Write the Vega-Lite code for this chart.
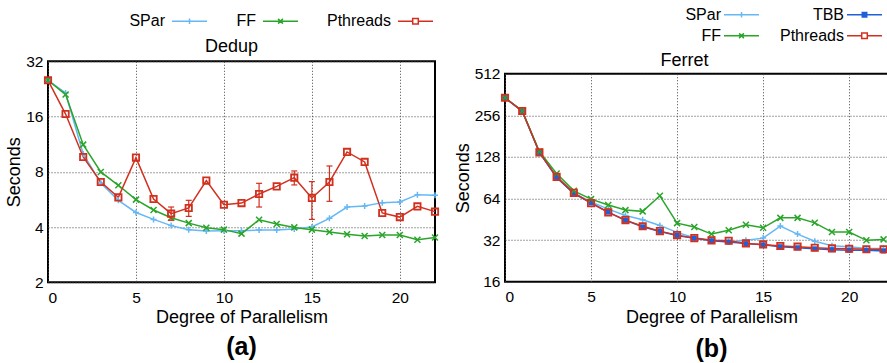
{
  "$schema": "https://vega.github.io/schema/vega-lite/v6.json",
  "padding": {"left": 4, "top": 2, "right": 0, "bottom": 0},
  "spacing": 10,
  "center": true,
  "config": {
    "font": "Liberation Sans",
    "view": {"stroke": "#000", "strokeWidth": 2},
    "axis": {
      "labelFont": "Liberation Sans", "labelFontSize": 15.5, "labelColor": "#000",
      "titleFont": "Liberation Sans", "titleFontSize": 18, "titleFontWeight": "normal", "titleColor": "#000",
      "domain": false, "ticks": false,
      "gridColor": "#444", "gridDash": [1, 2], "gridOpacity": 1, "gridWidth": 1
    },
    "legend": {
      "labelFont": "Liberation Sans", "labelFontSize": 16, "labelColor": "#000",
      "labelAlign": "right",
      "symbolSize": 256, "symbolStrokeWidth": 1.5, "padding": 0
    },
    "title": {"font": "Liberation Sans", "fontSize": 25, "fontWeight": "bold", "color": "#000"}
  },
  "datasets": {
    "dedup": [
      {"x": 0, "series": "SPar", "y": 25.2}, {"x": 1, "series": "SPar", "y": 21.5}, {"x": 2, "series": "SPar", "y": 10.0},
      {"x": 3, "series": "SPar", "y": 6.95}, {"x": 4, "series": "SPar", "y": 5.59}, {"x": 5, "series": "SPar", "y": 4.80},
      {"x": 6, "series": "SPar", "y": 4.40}, {"x": 7, "series": "SPar", "y": 4.07}, {"x": 8, "series": "SPar", "y": 3.87},
      {"x": 9, "series": "SPar", "y": 3.80}, {"x": 10, "series": "SPar", "y": 3.82}, {"x": 11, "series": "SPar", "y": 3.82},
      {"x": 12, "series": "SPar", "y": 3.85}, {"x": 13, "series": "SPar", "y": 3.85}, {"x": 14, "series": "SPar", "y": 3.90},
      {"x": 15, "series": "SPar", "y": 4.0}, {"x": 16, "series": "SPar", "y": 4.46}, {"x": 17, "series": "SPar", "y": 5.14},
      {"x": 18, "series": "SPar", "y": 5.21}, {"x": 19, "series": "SPar", "y": 5.43}, {"x": 20, "series": "SPar", "y": 5.47},
      {"x": 21, "series": "SPar", "y": 6.0}, {"x": 22, "series": "SPar", "y": 5.95},
      {"x": 0, "series": "FF", "y": 25.2}, {"x": 1, "series": "FF", "y": 21.07}, {"x": 2, "series": "FF", "y": 11.24},
      {"x": 3, "series": "FF", "y": 7.98}, {"x": 4, "series": "FF", "y": 6.75}, {"x": 5, "series": "FF", "y": 5.64},
      {"x": 6, "series": "FF", "y": 4.95}, {"x": 7, "series": "FF", "y": 4.49}, {"x": 8, "series": "FF", "y": 4.20},
      {"x": 9, "series": "FF", "y": 3.96}, {"x": 10, "series": "FF", "y": 3.87}, {"x": 11, "series": "FF", "y": 3.68},
      {"x": 12, "series": "FF", "y": 4.38}, {"x": 13, "series": "FF", "y": 4.15}, {"x": 14, "series": "FF", "y": 3.98},
      {"x": 15, "series": "FF", "y": 3.87}, {"x": 16, "series": "FF", "y": 3.76}, {"x": 17, "series": "FF", "y": 3.65},
      {"x": 18, "series": "FF", "y": 3.57}, {"x": 19, "series": "FF", "y": 3.62}, {"x": 20, "series": "FF", "y": 3.62},
      {"x": 21, "series": "FF", "y": 3.41}, {"x": 22, "series": "FF", "y": 3.51},
      {"x": 0, "series": "Pthreads", "y": 25.2}, {"x": 1, "series": "Pthreads", "y": 16.5}, {"x": 2, "series": "Pthreads", "y": 9.63},
      {"x": 3, "series": "Pthreads", "y": 7.04}, {"x": 4, "series": "Pthreads", "y": 5.8}, {"x": 5, "series": "Pthreads", "y": 9.55},
      {"x": 6, "series": "Pthreads", "y": 5.68}, {"x": 7, "series": "Pthreads", "y": 4.73}, {"x": 8, "series": "Pthreads", "y": 5.08},
      {"x": 9, "series": "Pthreads", "y": 7.16}, {"x": 10, "series": "Pthreads", "y": 5.29}, {"x": 11, "series": "Pthreads", "y": 5.40},
      {"x": 12, "series": "Pthreads", "y": 6.05}, {"x": 13, "series": "Pthreads", "y": 6.66}, {"x": 14, "series": "Pthreads", "y": 7.43},
      {"x": 15, "series": "Pthreads", "y": 5.76}, {"x": 16, "series": "Pthreads", "y": 7.04}, {"x": 17, "series": "Pthreads", "y": 10.26},
      {"x": 18, "series": "Pthreads", "y": 9.05}, {"x": 19, "series": "Pthreads", "y": 4.77}, {"x": 20, "series": "Pthreads", "y": 4.53},
      {"x": 21, "series": "Pthreads", "y": 5.18}, {"x": 22, "series": "Pthreads", "y": 4.85}
    ],
    "dedup_err": [
      {"x": 7, "lo": 4.35, "hi": 5.14}, {"x": 8, "lo": 4.57, "hi": 5.59}, {"x": 12, "lo": 5.14, "hi": 6.92},
      {"x": 14, "lo": 6.78, "hi": 8.08}, {"x": 15, "lo": 4.40, "hi": 7.07}, {"x": 16, "lo": 5.52, "hi": 8.60}
    ],
    "ferret": [
      {"x": 0, "series": "SPar", "y": 343}, {"x": 1, "series": "SPar", "y": 275}, {"x": 2, "series": "SPar", "y": 138},
      {"x": 3, "series": "SPar", "y": 91}, {"x": 4, "series": "SPar", "y": 70}, {"x": 5, "series": "SPar", "y": 60.6},
      {"x": 6, "series": "SPar", "y": 53.7}, {"x": 7, "series": "SPar", "y": 48.3}, {"x": 8, "series": "SPar", "y": 44.9},
      {"x": 9, "series": "SPar", "y": 40.9}, {"x": 10, "series": "SPar", "y": 36.4}, {"x": 11, "series": "SPar", "y": 33.3},
      {"x": 12, "series": "SPar", "y": 32.0}, {"x": 13, "series": "SPar", "y": 31.2}, {"x": 14, "series": "SPar", "y": 31.9},
      {"x": 15, "series": "SPar", "y": 33.1}, {"x": 16, "series": "SPar", "y": 40.5}, {"x": 17, "series": "SPar", "y": 35.4},
      {"x": 18, "series": "SPar", "y": 31.4}, {"x": 19, "series": "SPar", "y": 29.2}, {"x": 20, "series": "SPar", "y": 28.7},
      {"x": 21, "series": "SPar", "y": 27.9}, {"x": 22, "series": "SPar", "y": 27.8},
      {"x": 0, "series": "TBB", "y": 343}, {"x": 1, "series": "TBB", "y": 275}, {"x": 2, "series": "TBB", "y": 138},
      {"x": 3, "series": "TBB", "y": 91}, {"x": 4, "series": "TBB", "y": 69.5}, {"x": 5, "series": "TBB", "y": 59.5},
      {"x": 6, "series": "TBB", "y": 51}, {"x": 7, "series": "TBB", "y": 44.5}, {"x": 8, "series": "TBB", "y": 40},
      {"x": 9, "series": "TBB", "y": 37}, {"x": 10, "series": "TBB", "y": 34.6}, {"x": 11, "series": "TBB", "y": 33},
      {"x": 12, "series": "TBB", "y": 31.7}, {"x": 13, "series": "TBB", "y": 31.0}, {"x": 14, "series": "TBB", "y": 30.2},
      {"x": 15, "series": "TBB", "y": 29.6}, {"x": 16, "series": "TBB", "y": 28.7}, {"x": 17, "series": "TBB", "y": 28.2},
      {"x": 18, "series": "TBB", "y": 27.7}, {"x": 19, "series": "TBB", "y": 27.3}, {"x": 20, "series": "TBB", "y": 27.0},
      {"x": 21, "series": "TBB", "y": 27.0}, {"x": 22, "series": "TBB", "y": 26.7},
      {"x": 0, "series": "FF", "y": 343}, {"x": 1, "series": "FF", "y": 275}, {"x": 2, "series": "FF", "y": 140},
      {"x": 3, "series": "FF", "y": 97}, {"x": 4, "series": "FF", "y": 72.8}, {"x": 5, "series": "FF", "y": 63.4},
      {"x": 6, "series": "FF", "y": 57.4}, {"x": 7, "series": "FF", "y": 52.8}, {"x": 8, "series": "FF", "y": 51.7},
      {"x": 9, "series": "FF", "y": 67.0}, {"x": 10, "series": "FF", "y": 42.5}, {"x": 11, "series": "FF", "y": 39.8},
      {"x": 12, "series": "FF", "y": 35.4}, {"x": 13, "series": "FF", "y": 37.7}, {"x": 14, "series": "FF", "y": 41.3},
      {"x": 15, "series": "FF", "y": 39.3}, {"x": 16, "series": "FF", "y": 46.4}, {"x": 17, "series": "FF", "y": 46.4},
      {"x": 18, "series": "FF", "y": 42.7}, {"x": 19, "series": "FF", "y": 36.6}, {"x": 20, "series": "FF", "y": 36.6},
      {"x": 21, "series": "FF", "y": 31.9}, {"x": 22, "series": "FF", "y": 32.4},
      {"x": 0, "series": "Pthreads", "y": 343}, {"x": 1, "series": "Pthreads", "y": 275}, {"x": 2, "series": "Pthreads", "y": 138},
      {"x": 3, "series": "Pthreads", "y": 91.8}, {"x": 4, "series": "Pthreads", "y": 70.4}, {"x": 5, "series": "Pthreads", "y": 59.3},
      {"x": 6, "series": "Pthreads", "y": 50.8}, {"x": 7, "series": "Pthreads", "y": 44.7}, {"x": 8, "series": "Pthreads", "y": 40.3},
      {"x": 9, "series": "Pthreads", "y": 37.2}, {"x": 10, "series": "Pthreads", "y": 34.8}, {"x": 11, "series": "Pthreads", "y": 33.1},
      {"x": 12, "series": "Pthreads", "y": 31.9}, {"x": 13, "series": "Pthreads", "y": 31.7}, {"x": 14, "series": "Pthreads", "y": 30.3},
      {"x": 15, "series": "Pthreads", "y": 29.8}, {"x": 16, "series": "Pthreads", "y": 29.0}, {"x": 17, "series": "Pthreads", "y": 28.7},
      {"x": 18, "series": "Pthreads", "y": 28.2}, {"x": 19, "series": "Pthreads", "y": 27.9}, {"x": 20, "series": "Pthreads", "y": 27.7},
      {"x": 21, "series": "Pthreads", "y": 27.5}, {"x": 22, "series": "Pthreads", "y": 27.5}
    ]
  },
  "hconcat": [
    {
      "width": 387,
      "height": 221,
      "title": {"text": "(a)", "subtitle": " ", "subtitleFontSize": 10, "subtitlePadding": 5, "orient": "bottom", "offset": 8},
      "resolve": {"axis": {"x": "independent"}},
      "layer": [
        {
          "data": {"name": "dedup"},
          "mark": {"type": "line", "strokeWidth": 1.5},
          "encoding": {
            "x": {"field": "x", "type": "quantitative", "scale": {"domain": [0, 22], "nice": false},
                  "axis": {"orient": "bottom", "values": [0, 5, 10, 15, 20], "title": "Degree of Parallelism", "labelPadding": 8, "titlePadding": 3, "grid": true}},
            "y": {"field": "y", "type": "quantitative", "scale": {"type": "log", "base": 2, "domain": [2, 32], "nice": false},
                  "axis": {"values": [2, 4, 8, 16, 32], "format": "d", "title": "Seconds", "labelPadding": 5, "titlePadding": 2, "grid": true}},
            "color": {"field": "series", "type": "nominal",
                      "scale": {"domain": ["SPar", "FF", "Pthreads"], "range": ["#66b8f5", "#2aa52a", "#d2301e"]},
                      "legend": {"title": null, "orient": "none", "legendX": 132.5, "legendY": -49, "padding": 0, "direction": "horizontal", "columnPadding": 25, "labelOffset": -33.5,
                                 "encode": {"symbols": {"update": {
                                   "shape": {"signal": "datum.value === 'SPar' ? 'M-2.19,0H2.19M0,-0.35V0.35' : datum.value === 'FF' ? 'M-2.19,0H2.19M-0.3,-0.3L0.3,0.3M-0.3,0.3L0.3,-0.3' : 'M-2.19,0H-0.35M0.35,0H2.19M-0.35,-0.35H0.35V0.35H-0.35Z'"},
                                   "fill": {"value": "transparent"}, "strokeWidth": {"value": 1.5}}}}}}
          }
        },
        {
          "data": {"name": "dedup"},
          "transform": [{"filter": "datum.series === 'SPar'"}],
          "mark": {"type": "point", "shape": "M-1,0H1M0,-1V1", "color": "#66b8f5", "filled": false, "opacity": 1, "strokeWidth": 1.5, "size": 36},
          "encoding": {"x": {"field": "x", "type": "quantitative", "axis": null}, "y": {"field": "y", "type": "quantitative", "title": "Seconds"}}
        },
        {
          "data": {"name": "dedup"},
          "transform": [{"filter": "datum.series === 'FF'"}],
          "mark": {"type": "point", "shape": "M-1,-1L1,1M-1,1L1,-1", "color": "#2aa52a", "filled": false, "opacity": 1, "strokeWidth": 1.5, "size": 36},
          "encoding": {"x": {"field": "x", "type": "quantitative", "axis": null}, "y": {"field": "y", "type": "quantitative", "title": "Seconds"}}
        },
        {
          "data": {"name": "dedup_err"},
          "mark": {"type": "rule", "color": "#d2301e", "strokeWidth": 1.2},
          "encoding": {
            "x": {"field": "x", "type": "quantitative",
                  "axis": {"orient": "top", "title": "Dedup", "labels": false, "ticks": false, "domain": false, "grid": false, "titlePadding": 6, "titleX": 183}},
            "y": {"field": "lo", "type": "quantitative", "title": "Seconds"},
            "y2": {"field": "hi"}
          }
        },
        {
          "data": {"name": "dedup_err"},
          "mark": {"type": "tick", "orient": "horizontal", "color": "#d2301e", "size": 6, "thickness": 1.2, "opacity": 1},
          "encoding": {"x": {"field": "x", "type": "quantitative", "axis": null}, "y": {"field": "lo", "type": "quantitative", "title": "Seconds"}}
        },
        {
          "data": {"name": "dedup_err"},
          "mark": {"type": "tick", "orient": "horizontal", "color": "#d2301e", "size": 6, "thickness": 1.2, "opacity": 1},
          "encoding": {"x": {"field": "x", "type": "quantitative", "axis": null}, "y": {"field": "hi", "type": "quantitative", "title": "Seconds"}}
        },
        {
          "data": {"name": "dedup"},
          "transform": [{"filter": "datum.series === 'Pthreads'"}],
          "mark": {"type": "point", "shape": "square", "color": "#d2301e", "filled": false, "opacity": 1, "strokeWidth": 1.8, "size": 40},
          "encoding": {"x": {"field": "x", "type": "quantitative", "axis": null}, "y": {"field": "y", "type": "quantitative", "title": "Seconds"}}
        }
      ]
    },
    {
      "width": 413,
      "height": 208,
      "title": {"text": "(b)", "orient": "bottom", "offset": 11},
      "resolve": {"axis": {"x": "independent"}},
      "layer": [
        {
          "data": {"name": "ferret"},
          "mark": {"type": "line", "strokeWidth": 1.5},
          "encoding": {
            "x": {"field": "x", "type": "quantitative", "scale": {"domain": [0, 24], "nice": false},
                  "axis": {"orient": "bottom", "values": [0, 5, 10, 15, 20], "title": "Degree of Parallelism", "labelPadding": 8, "titlePadding": 3, "grid": true}},
            "y": {"field": "y", "type": "quantitative", "scale": {"type": "log", "base": 2, "domain": [16, 512], "nice": false},
                  "axis": {"values": [16, 32, 64, 128, 256, 512], "format": "d", "title": "Seconds", "labelPadding": 5, "titlePadding": 2, "grid": true}},
            "color": {"field": "series", "type": "nominal",
                      "scale": {"domain": ["SPar", "TBB", "FF", "Pthreads"], "range": ["#66b8f5", "#1f5fd8", "#2aa52a", "#d2301e"]},
                      "legend": {"title": null, "orient": "none", "legendX": 225.5, "legendY": -70, "padding": 2, "direction": "horizontal", "columns": 2, "columnPadding": 17, "rowPadding": 4, "labelOffset": -29.5,
                                 "encode": {"symbols": {"update": {
                                   "shape": {"signal": "datum.value === 'SPar' ? 'M-2.19,0H2.19M0,-0.35V0.35' : datum.value === 'FF' ? 'M-2.19,0H2.19M-0.3,-0.3L0.3,0.3M-0.3,0.3L0.3,-0.3' : datum.value === 'TBB' ? 'M-2.19,0H2.19M-0.28,-0.28H0.28V0.28H-0.28Z' : 'M-2.19,0H-0.35M0.35,0H2.19M-0.35,-0.35H0.35V0.35H-0.35Z'"},
                                   "fill": {"signal": "datum.value === 'TBB' ? '#1f5fd8' : 'transparent'"}, "strokeWidth": {"value": 1.5}}}}}}
          }
        },
        {
          "data": {"name": "ferret"},
          "transform": [{"filter": "datum.series === 'SPar'"}],
          "mark": {"type": "point", "shape": "M-1,0H1M0,-1V1", "color": "#66b8f5", "filled": false, "opacity": 1, "strokeWidth": 1.5, "size": 36},
          "encoding": {
            "x": {"field": "x", "type": "quantitative",
                  "axis": {"orient": "top", "title": "Ferret", "labels": false, "ticks": false, "domain": false, "grid": false, "titlePadding": 4, "titleX": 179}},
            "y": {"field": "y", "type": "quantitative", "title": "Seconds"}
          }
        },
        {
          "data": {"name": "ferret"},
          "transform": [{"filter": "datum.series === 'TBB'"}],
          "mark": {"type": "point", "shape": "square", "color": "#1f5fd8", "filled": true, "opacity": 1, "size": 25},
          "encoding": {"x": {"field": "x", "type": "quantitative", "axis": null}, "y": {"field": "y", "type": "quantitative", "title": "Seconds"}}
        },
        {
          "data": {"name": "ferret"},
          "transform": [{"filter": "datum.series === 'FF'"}],
          "mark": {"type": "point", "shape": "M-1,-1L1,1M-1,1L1,-1", "color": "#2aa52a", "filled": false, "opacity": 1, "strokeWidth": 1.5, "size": 36},
          "encoding": {"x": {"field": "x", "type": "quantitative", "axis": null}, "y": {"field": "y", "type": "quantitative", "title": "Seconds"}}
        },
        {
          "data": {"name": "ferret"},
          "transform": [{"filter": "datum.series === 'Pthreads'"}],
          "mark": {"type": "point", "shape": "square", "color": "#d2301e", "filled": false, "opacity": 1, "strokeWidth": 1.8, "size": 40},
          "encoding": {"x": {"field": "x", "type": "quantitative", "axis": null}, "y": {"field": "y", "type": "quantitative", "title": "Seconds"}}
        }
      ]
    }
  ],
  "resolve": {"scale": {"color": "independent"}}
}
